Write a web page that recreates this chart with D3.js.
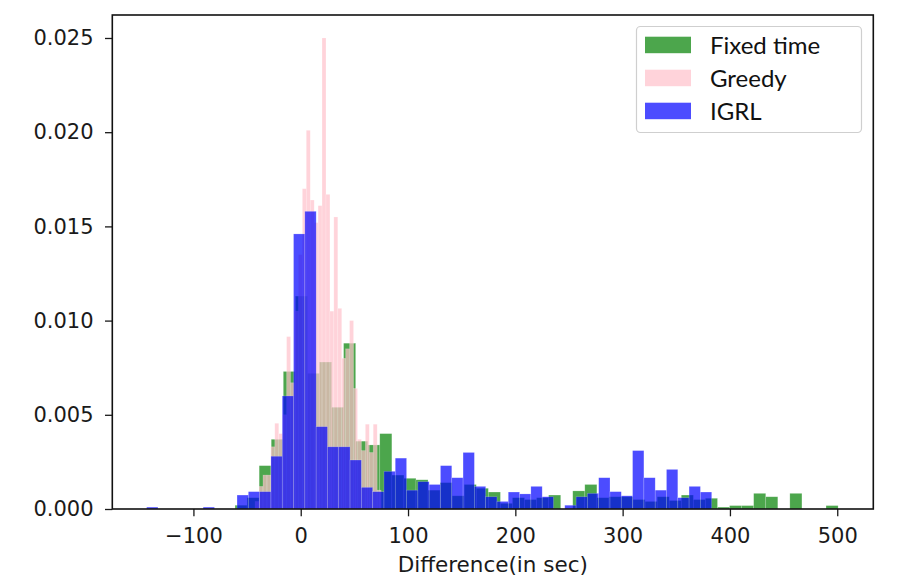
<!DOCTYPE html>
<html lang="en">
<head>
<meta charset="UTF-8">
<title>Difference histogram</title>
<script src="https://d3js.org/d3.v7.min.js"></script>
<style>
    body { margin: 0; background: #fff; }
    .tick text { font: 21px "DejaVu Sans", sans-serif; fill: #1a1a1a; }
    .tick line { stroke: #1a1a1a; stroke-width: 1.3px; }
    .legend text { font: 24px Lato, "Open Sans", sans-serif; fill: #111; }
    .bar { stroke: #fff; stroke-opacity: 0.3; stroke-width: 0.6px; }
</style>
</head>
<body>
<script>
    // histogram ranges (50 / 50 / 32 equal bins)
    const fixedRange = [-61.2, 500.8];
    const greedyRange = [-42.5, 74.9];
    const igrlRange = [-143.6, 383.0];

    // densities per bin
    const fixedTime = [
        0.0002, 0.0006, 0.0023, 0.0037, 0.0073, 0.0113, 0.0072, 0.0078, 0.0054, 0.0088,
        0.0036, 0.0034, 0.0040, 0.0018, 0.00163, 0.00155, 0.0010, 0.0014, 0.0007, 0.0013,
        0.0011, 0.0009, 0.0003, 0.0006, 0.0005, 0.0006, 0.00074, 0, 0.00096, 0.0013,
        0.0006, 0.00065, 0.00065, 0.0005, 0.0004, 0.00065, 0.00045, 0.00074, 0.0005, 0.00057,
        0.0001, 0.00018, 0.00018, 0.00083, 0.00065, 0, 0.00083, 0, 0, 0.00018
    ];
    const greedy = [
        0.0004, 0.0012, 0.0018, 0.0018, 0.0033, 0.00455, 0.0040, 0.0050, 0.00915, 0.0067,
        0.0105, 0.0135, 0.0170, 0.0201, 0.0164, 0.0152, 0.0161, 0.0250, 0.0167, 0.0105,
        0.0155, 0.01065, 0.0080, 0.0085, 0.0100, 0.0064, 0.0037, 0.0031, 0.0045, 0.0030,
        0.0045, 0.0010
    ];
    const igrl = [
        0.0001, 0, 0, 0, 0, 0.0001, 0, 0, 0.00074, 0.00092,
        0.00092, 0.0028, 0.0060, 0.0146, 0.0158, 0.00437, 0.0033, 0.0033, 0.0026, 0.00115,
        0.00092, 0.0020, 0.0027, 0.0010, 0.00145, 0.0013, 0.0023, 0.00166, 0.0030, 0.0012,
        0.00065, 0.0004, 0.0009, 0.0008, 0.0012, 0.00065, 0, 0.0002, 0.00065, 0.00083,
        0.00166, 0.00092, 0.0007, 0.0031, 0.00166, 0.0010, 0.0021, 0.0006, 0.0012, 0.0009
    ];

    const seriesNames = ["Fixed time", "Greedy", "IGRL"];
    const xTicks = [-100, 0, 100, 200, 300, 400, 500];
    const yTicks = [0, 0.005, 0.010, 0.015, 0.020, 0.025];
    const xLabel = "Difference(in sec)";

    const width = 898, height = 582;
    const margin = {top: 15, right: 24.7, bottom: 73, left: 112.3};
    const colors = ["#008000", "#ffc0cb", "#0000ff"];

    const svg = d3.select("body").append("svg")
        .attr("width", width)
        .attr("height", height);

    const x = d3.scaleLinear().domain([-175.6, 533.6]).range([margin.left, width - margin.right]);
    const y = d3.scaleLinear().domain([0, 0.02622]).range([height - margin.bottom, margin.top]);

    function bins(range, values) {
        const step = (range[1] - range[0]) / values.length;
        return values.map(function (v, i) {
            return {x0: range[0] + i * step, x1: range[0] + (i + 1) * step, v: v};
        });
    }

    const all = [bins(fixedRange, fixedTime), bins(greedyRange, greedy), bins(igrlRange, igrl)];

    all.forEach(function (data, k) {
        svg.append("g").selectAll("rect")
            .data(data.filter(d => d.v > 0))
            .join("rect")
            .attr("class", "bar")
            .attr("x", d => x(d.x0))
            .attr("width", d => x(d.x1) - x(d.x0))
            .attr("y", d => y(d.v))
            .attr("height", d => y(0) - y(d.v))
            .attr("fill", colors[k])
            .attr("fill-opacity", 0.7);
    });

    // axes
    const xAxis = svg.append("g")
        .attr("transform", "translate(0," + (height - margin.bottom) + ")")
        .call(d3.axisBottom(x).tickValues(xTicks).tickSize(7.3).tickPadding(12).tickFormat(d3.format("d")));
    xAxis.select(".domain").remove();

    const yAxis = svg.append("g")
        .attr("transform", "translate(" + margin.left + ",0)")
        .call(d3.axisLeft(y).tickValues(yTicks).tickSize(7.3).tickPadding(11.5).tickFormat(d3.format(".3f")));
    yAxis.select(".domain").remove();

    svg.append("rect")
        .attr("x", margin.left)
        .attr("y", margin.top)
        .attr("width", width - margin.left - margin.right)
        .attr("height", height - margin.top - margin.bottom)
        .attr("fill", "none")
        .attr("stroke", "#111")
        .attr("stroke-width", 1.6);

    svg.append("text")
        .attr("x", (margin.left + width - margin.right) / 2)
        .attr("y", 572)
        .attr("text-anchor", "middle")
        .style("font", "21.5px 'DejaVu Sans', sans-serif")
        .style("fill", "#1a1a1a")
        .text(xLabel);

    // legend
    const legend = svg.append("g").attr("class", "legend");
    legend.append("rect")
        .attr("x", 636.5).attr("y", 26.5)
        .attr("width", 225).attr("height", 106)
        .attr("rx", 4)
        .attr("fill", "#fff")
        .attr("stroke", "#cfcfcf")
        .attr("stroke-width", 1.2);

    seriesNames.forEach(function (name, k) {
        const top = 36.7 + k * 33;
        legend.append("rect")
            .attr("x", 645).attr("y", top)
            .attr("width", 46).attr("height", 16.5)
            .attr("fill", colors[k])
            .attr("fill-opacity", 0.7);
        legend.append("text")
            .attr("x", 710)
            .attr("y", top + 17.5)
            .text(name);
    });
</script>
</body>
</html>
